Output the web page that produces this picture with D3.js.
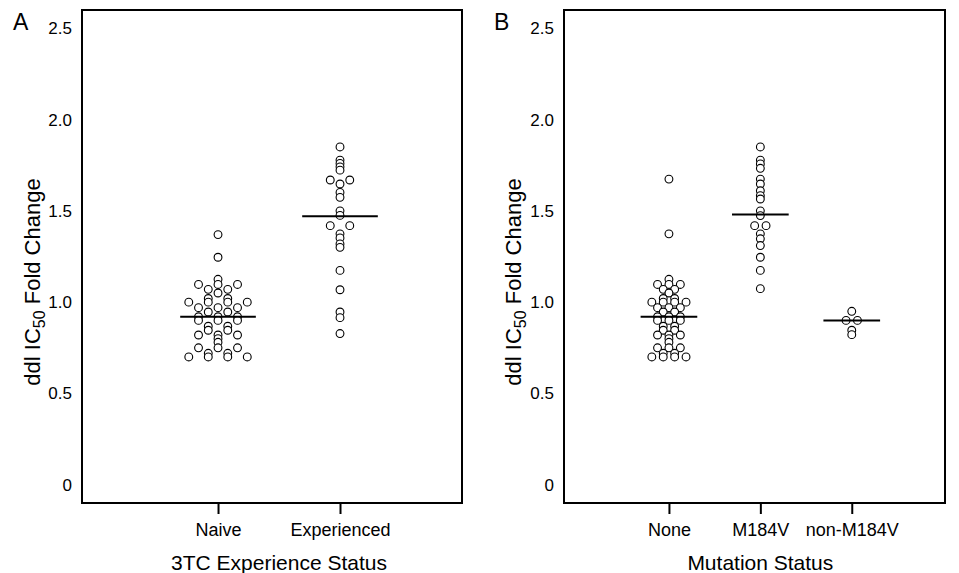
<!DOCTYPE html>
<html>
<head>
<meta charset="utf-8">
<script src="https://cdn.jsdelivr.net/npm/d3@7"></script>
<style>
  body { margin: 0; background: #fff; }
  text { font-family: Arial, "Liberation Sans", sans-serif; fill: #000; }
</style>
</head>
<body>
<svg id="chart" width="959" height="573"></svg>
<script>
// tick labels on the y axis
const yTicks = [0, 0.5, 1.0, 1.5, 2.0, 2.5];

// panel A: 3TC experience status
const panelACategories = ["Naive", "Experienced"];
const naiveValues = [1.37, 1.246, 1.125, 1.097, 1.097, 1.097, 1.07, 1.07, 1.05, 1.02, 1.02,
  1.0, 1.0, 1.0, 1.0, 0.97, 0.97, 0.97, 0.946, 0.946, 0.92, 0.92, 0.92, 0.90, 0.90, 0.90,
  0.868, 0.868, 0.846, 0.846, 0.82, 0.82, 0.82, 0.80, 0.78, 0.75, 0.75, 0.75, 0.72, 0.72,
  0.70, 0.70, 0.70, 0.70];
const experiencedValues = [1.85, 1.778, 1.76, 1.741, 1.723, 1.669, 1.669, 1.647, 1.601, 1.574,
  1.50, 1.475, 1.419, 1.419, 1.374, 1.352, 1.319, 1.30, 1.174, 1.068, 0.946, 0.915, 0.828];
const panelALines = [0.92, 1.47];

// panel B: mutation status
const panelBCategories = ["None", "M184V", "non-M184V"];
const noneValues = [1.674, 1.374, 1.125, 1.097, 1.097, 1.097, 1.07, 1.07, 1.05, 1.02, 1.02,
  1.0, 1.0, 1.0, 1.0, 0.97, 0.97, 0.97, 0.946, 0.946, 0.92, 0.92, 0.92, 0.90, 0.90, 0.90,
  0.868, 0.868, 0.846, 0.846, 0.82, 0.82, 0.82, 0.80, 0.78, 0.75, 0.75, 0.75, 0.72, 0.72,
  0.70, 0.70, 0.70, 0.70];
const m184vValues = [1.85, 1.778, 1.757, 1.733, 1.674, 1.647, 1.61, 1.583, 1.565, 1.50, 1.474,
  1.419, 1.419, 1.374, 1.347, 1.31, 1.246, 1.174, 1.074];
const nonM184vValues = [0.95, 0.90, 0.90, 0.846, 0.822];
const panelBLines = [0.92, 1.48, 0.90];

const svg = d3.select("#chart");

const y = d3.scaleLinear().domain([-0.1, 2.6]).range([503, 10]);

function drawPanel(p) {
  const g = svg.append("g");
  const x = d3.scaleLinear().domain(p.domain).range([p.left, p.right]);

  // frame
  g.append("rect")
    .attr("x", p.left).attr("y", y.range()[1])
    .attr("width", p.right - p.left).attr("height", y.range()[0] - y.range()[1])
    .attr("fill", "none").attr("stroke", "#000").attr("stroke-width", 2);

  // y axis labels (no tick marks)
  const ya = g.append("g")
    .attr("transform", "translate(" + p.left + ",0)")
    .call(d3.axisLeft(y).tickValues(yTicks).tickSize(0).tickPadding(10)
      .tickFormat(d => d === 0 ? "0" : d3.format(".1f")(d)));
  ya.select(".domain").remove();
  ya.selectAll("text").style("font-size", "17px").style("font-family", "Arial, 'Liberation Sans', sans-serif");

  // x axis
  const xa = g.append("g")
    .attr("transform", "translate(0," + y.range()[0] + ")")
    .call(d3.axisBottom(x).tickValues(p.categories.map((c, i) => i + 1))
      .tickSize(11).tickPadding(9).tickFormat((d, i) => p.categories[i]));
  xa.select(".domain").remove();
  xa.selectAll("line").attr("stroke-width", 2);
  xa.selectAll("text").style("font-size", "18px").style("font-family", "Arial, 'Liberation Sans', sans-serif");

  // dots, grouped by equal value and spread symmetrically
  p.series.forEach((values, i) => {
    const groups = d3.groups(values, v => v);
    const pts = [];
    groups.forEach(([v, arr]) => {
      arr.forEach((_, j) => pts.push({ v: v, off: (j - (arr.length - 1) / 2) * p.spacing }));
    });
    g.append("g").selectAll("circle")
      .data(pts)
      .join("circle")
      .attr("cx", d => x(i + 1) + d.off)
      .attr("cy", d => y(d.v))
      .attr("r", 3.9)
      .attr("fill", "#fff")
      .attr("stroke", "#000")
      .attr("stroke-width", 1.1);
  });

  // centre lines
  g.append("g").selectAll("line")
    .data(p.lines)
    .join("line")
    .attr("x1", (d, i) => x(i + 1 - 0.31))
    .attr("x2", (d, i) => x(i + 1 + 0.31))
    .attr("y1", d => y(d)).attr("y2", d => y(d))
    .attr("stroke", "#000").attr("stroke-width", 2);

  // y title with subscript
  const yt = g.append("text")
    .attr("transform", "translate(" + p.yTitleX + ",282) rotate(-90)")
    .attr("text-anchor", "middle")
    .style("font-size", "22px");
  yt.append("tspan").text("ddl IC");
  yt.append("tspan").attr("dy", 5).style("font-size", "16px").text("50");
  yt.append("tspan").attr("dy", -5).text(" Fold Change");

  // x title centred under the categories
  const mid = (x(1) + x(p.categories.length)) / 2;
  g.append("text")
    .attr("x", mid).attr("y", 570)
    .attr("text-anchor", "middle")
    .style("font-size", "21px")
    .text(p.xTitle);

  // panel letter
  g.append("text")
    .attr("x", p.letterX).attr("y", 30)
    .style("font-size", "23px")
    .text(p.letter);
}

drawPanel({
  left: 82, right: 462, domain: [-0.115, 3.0],
  categories: panelACategories,
  series: [naiveValues, experiencedValues],
  lines: panelALines,
  spacing: 19.5,
  yTitleX: 40,
  xTitle: "3TC Experience Status", letter: "A", letterX: 13
});

drawPanel({
  left: 564, right: 945, domain: [-0.148, 4.02],
  categories: panelBCategories,
  series: [noneValues, m184vValues, nonM184vValues],
  lines: panelBLines,
  spacing: 11.4,
  yTitleX: 521,
  xTitle: "Mutation Status", letter: "B", letterX: 494
});
</script>
</body>
</html>
